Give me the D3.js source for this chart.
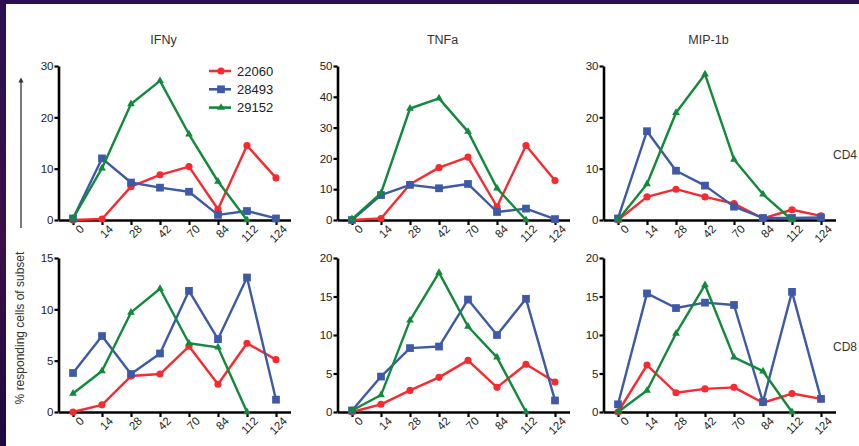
<!DOCTYPE html>
<html>
<head>
<meta charset="utf-8">
<title>Responding cells</title>
<style>
  body { margin: 0; background: #26104a; }
  svg text { font-family: "Liberation Sans", Arial, sans-serif; }
</style>
</head>
<body>
<main></main>
<script src="https://cdn.jsdelivr.net/npm/d3@7"></script>
<script>
// categories (days)
var days = ["0", "14", "28", "42", "70", "84", "112", "124"];
var seriesNames = ["22060", "28493", "29152"];
var titles = ["IFNy", "TNFa", "MIP-1b"];
var rowLabels = ["CD4", "CD8"];

// top row (CD4)
var ifn4 = [
  [0, 0.2, 6.5, 8.8, 10.4, 2.1, 14.5, 8.2],
  [0.3, 12.0, 7.3, 6.3, 5.5, 1.0, 1.75, 0.3],
  [0.3, 10.1, 22.6, 27.1, 16.7, 7.5, 0, null]
];
var tnf4 = [
  [0, 0.5, 11.6, 17.0, 20.4, 4.3, 24.2, 12.8],
  [0, 8.1, 11.4, 10.3, 11.7, 2.6, 3.7, 0.3],
  [0.3, 8.7, 36.2, 39.5, 28.7, 10.3, 0, null]
];
var mip4 = [
  [0, 4.5, 6.0, 4.5, 3.2, 0.3, 2.0, 0.8],
  [0.3, 17.3, 9.6, 6.7, 2.6, 0.4, 0.4, 0.5],
  [0, 7.0, 20.9, 28.4, 11.8, 5.0, 0, null]
];
// bottom row (CD8)
var ifn8 = [
  [0, 0.7, 3.5, 3.7, 6.4, 2.7, 6.7, 5.1],
  [3.8, 7.4, 3.7, 5.7, 11.8, 7.1, 13.1, 1.2],
  [1.8, 4.0, 9.7, 12.0, 6.7, 6.3, 0, null]
];
var tnf8 = [
  [0, 1.0, 2.8, 4.5, 6.7, 3.2, 6.2, 3.9],
  [0.2, 4.6, 8.3, 8.5, 14.6, 10.0, 14.7, 1.5],
  [0.2, 2.2, 11.9, 18.1, 11.1, 7.1, 0, null]
];
var mip8 = [
  [0, 6.1, 2.5, 3.0, 3.2, 1.2, 2.4, 1.7],
  [1.0, 15.4, 13.5, 14.2, 13.9, 1.3, 15.6, 1.7],
  [0, 2.8, 10.2, 16.5, 7.1, 5.3, 0, null]
];

var yMax = [[30, 50, 30], [15, 20, 20]];
var yTicks = [
  [[0, 10, 20, 30], [0, 10, 20, 30, 40, 50], [0, 10, 20, 30]],
  [[0, 5, 10, 15], [0, 5, 10, 15, 20], [0, 5, 10, 15, 20]]
];
var panelData = [[ifn4, tnf4, mip4], [ifn8, tnf8, mip8]];

var width = 859, height = 446;
var colors = ["#f72a2f", "#3e5aa6", "#12893b"];
var panelLeft = [58.5, 337.5, 603.5];
var panelW = 232;
var rowTop = [66, 258];
var rowH = 154;

var svg = d3.select("main").append("svg")
  .attr("width", width)
  .attr("height", height)
  .style("display", "block");

var defs = svg.append("defs");
var grad = defs.append("linearGradient").attr("id", "bg")
  .attr("x1", 0).attr("y1", 0).attr("x2", 0).attr("y2", 1);
grad.append("stop").attr("offset", "0%").attr("stop-color", "#2a1052");
grad.append("stop").attr("offset", "55%").attr("stop-color", "#3a1048");
grad.append("stop").attr("offset", "100%").attr("stop-color", "#1d0a3e");

svg.append("rect").attr("width", width).attr("height", height).attr("fill", "url(#bg)");
svg.append("rect").attr("x", 6).attr("y", 4)
  .attr("width", width - 6).attr("height", height - 4).attr("fill", "#fff");

function symbolFor(k) {
  if (k === 0) return d3.symbol().type(d3.symbolCircle).size(40)();
  if (k === 1) return d3.symbol().type(d3.symbolSquare).size(60)();
  return d3.symbol().type(d3.symbolTriangle).size(26)();
}

panelData.forEach(function (row, r) {
  row.forEach(function (series, c) {
    var x0 = panelLeft[c];
    var x = d3.scalePoint().domain(days).range([x0, x0 + panelW]).padding(0.5);
    var y = d3.scaleLinear().domain([0, yMax[r][c]]).range([rowTop[r] + rowH, rowTop[r]]);
    var g = svg.append("g");

    // x axis
    var xa = g.append("g")
      .attr("transform", "translate(0," + (rowTop[r] + rowH) + ")")
      .call(d3.axisBottom(x).tickSize(5).tickSizeOuter(0).tickPadding(3));
    xa.selectAll("text")
      .attr("font-size", "11.5px")
      .attr("fill", "#222")
      .attr("text-anchor", "end")
      .attr("dx", "0.1em")
      .attr("dy", "0.6em")
      .attr("transform", "rotate(-45)")
      .attr("x", 0).attr("y", 8);

    // y axis
    var ya = g.append("g")
      .attr("transform", "translate(" + x0 + ",0)")
      .call(d3.axisLeft(y).tickValues(yTicks[r][c]).tickSize(4).tickSizeOuter(0).tickPadding(1));
    ya.selectAll("text").attr("font-size", "11.5px").attr("fill", "#222");

    [xa, ya].forEach(function (a) {
      a.select(".domain").attr("stroke", "#000").attr("stroke-width", 2.6);
      a.selectAll(".tick line").attr("stroke", "#000").attr("stroke-width", 2.2);
      a.attr("font-family", null);
    });

    // series lines + markers
    series.forEach(function (vals, k) {
      var pts = vals.map(function (v, i) { return { d: days[i], v: v }; })
        .filter(function (p) { return p.v !== null; });
      var line = d3.line()
        .x(function (p) { return x(p.d); })
        .y(function (p) { return y(p.v); });
      g.append("path")
        .datum(pts)
        .attr("fill", "none")
        .attr("stroke", colors[k])
        .attr("stroke-width", 2.4)
        .attr("stroke-linejoin", "round")
        .attr("d", line);
      g.selectAll(".m" + k)
        .data(pts)
        .enter()
        .append("path")
        .attr("class", "m" + k)
        .attr("fill", colors[k])
        .attr("transform", function (p) { return "translate(" + x(p.d) + "," + y(p.v) + ")"; })
        .attr("d", symbolFor(k));
    });

    if (r === 0) {
      svg.append("text")
        .attr("x", x0 + 105)
        .attr("y", 44)
        .attr("text-anchor", "middle")
        .attr("font-size", "12.5px")
        .attr("fill", "#333")
        .text(titles[c]);
    }
  });
});

// legend in first panel
var leg = svg.append("g").attr("transform", "translate(209,71)");
seriesNames.forEach(function (name, k) {
  var lg = leg.append("g").attr("transform", "translate(0," + (k * 18.3) + ")");
  lg.append("line").attr("x1", 0).attr("x2", 22).attr("y1", 0).attr("y2", 0)
    .attr("stroke", colors[k]).attr("stroke-width", 2.6);
  lg.append("path").attr("transform", "translate(12,0)").attr("d", symbolFor(k)).attr("fill", colors[k]);
  lg.append("text").attr("x", 28).attr("y", 0).attr("dy", "0.36em")
    .attr("font-size", "13px").attr("fill", "#222").text(name);
});

// row labels (pushed left a little so they stay inside the picture)
rowLabels.forEach(function (lab, r) {
  svg.append("text")
    .attr("x", 833)
    .attr("y", r === 0 ? 159 : 351)
    .attr("font-family", "'Open Sans', sans-serif")
    .attr("font-size", "12px")
    .attr("fill", "#333")
    .text(lab);
});

// y label and arrow
svg.append("text")
  .attr("transform", "translate(24,328) rotate(-90)")
  .attr("text-anchor", "middle")
  .attr("font-family", "'Open Sans', sans-serif")
  .attr("font-size", "12px")
  .attr("fill", "#333")
  .text("% responding cells of subset");

defs.append("marker").attr("id", "arr")
  .attr("viewBox", "0 0 10 10").attr("refX", 5).attr("refY", 5)
  .attr("markerWidth", 4).attr("markerHeight", 4).attr("orient", "auto")
  .append("path").attr("d", "M0,0L10,5L0,10z").attr("fill", "#333");
svg.append("line")
  .attr("x1", 21).attr("x2", 21).attr("y1", 228).attr("y2", 80)
  .attr("stroke", "#333").attr("stroke-width", 1.3)
  .attr("marker-end", "url(#arr)");

// x label, cut off by the bottom edge as in the original slide
svg.append("text")
  .attr("x", 152).attr("y", 455)
  .attr("text-anchor", "middle")
  .attr("font-family", "'Open Sans', sans-serif")
  .attr("font-size", "12px")
  .attr("fill", "#aaa")
  .text("Days post infection");
</script>
</body>
</html>
